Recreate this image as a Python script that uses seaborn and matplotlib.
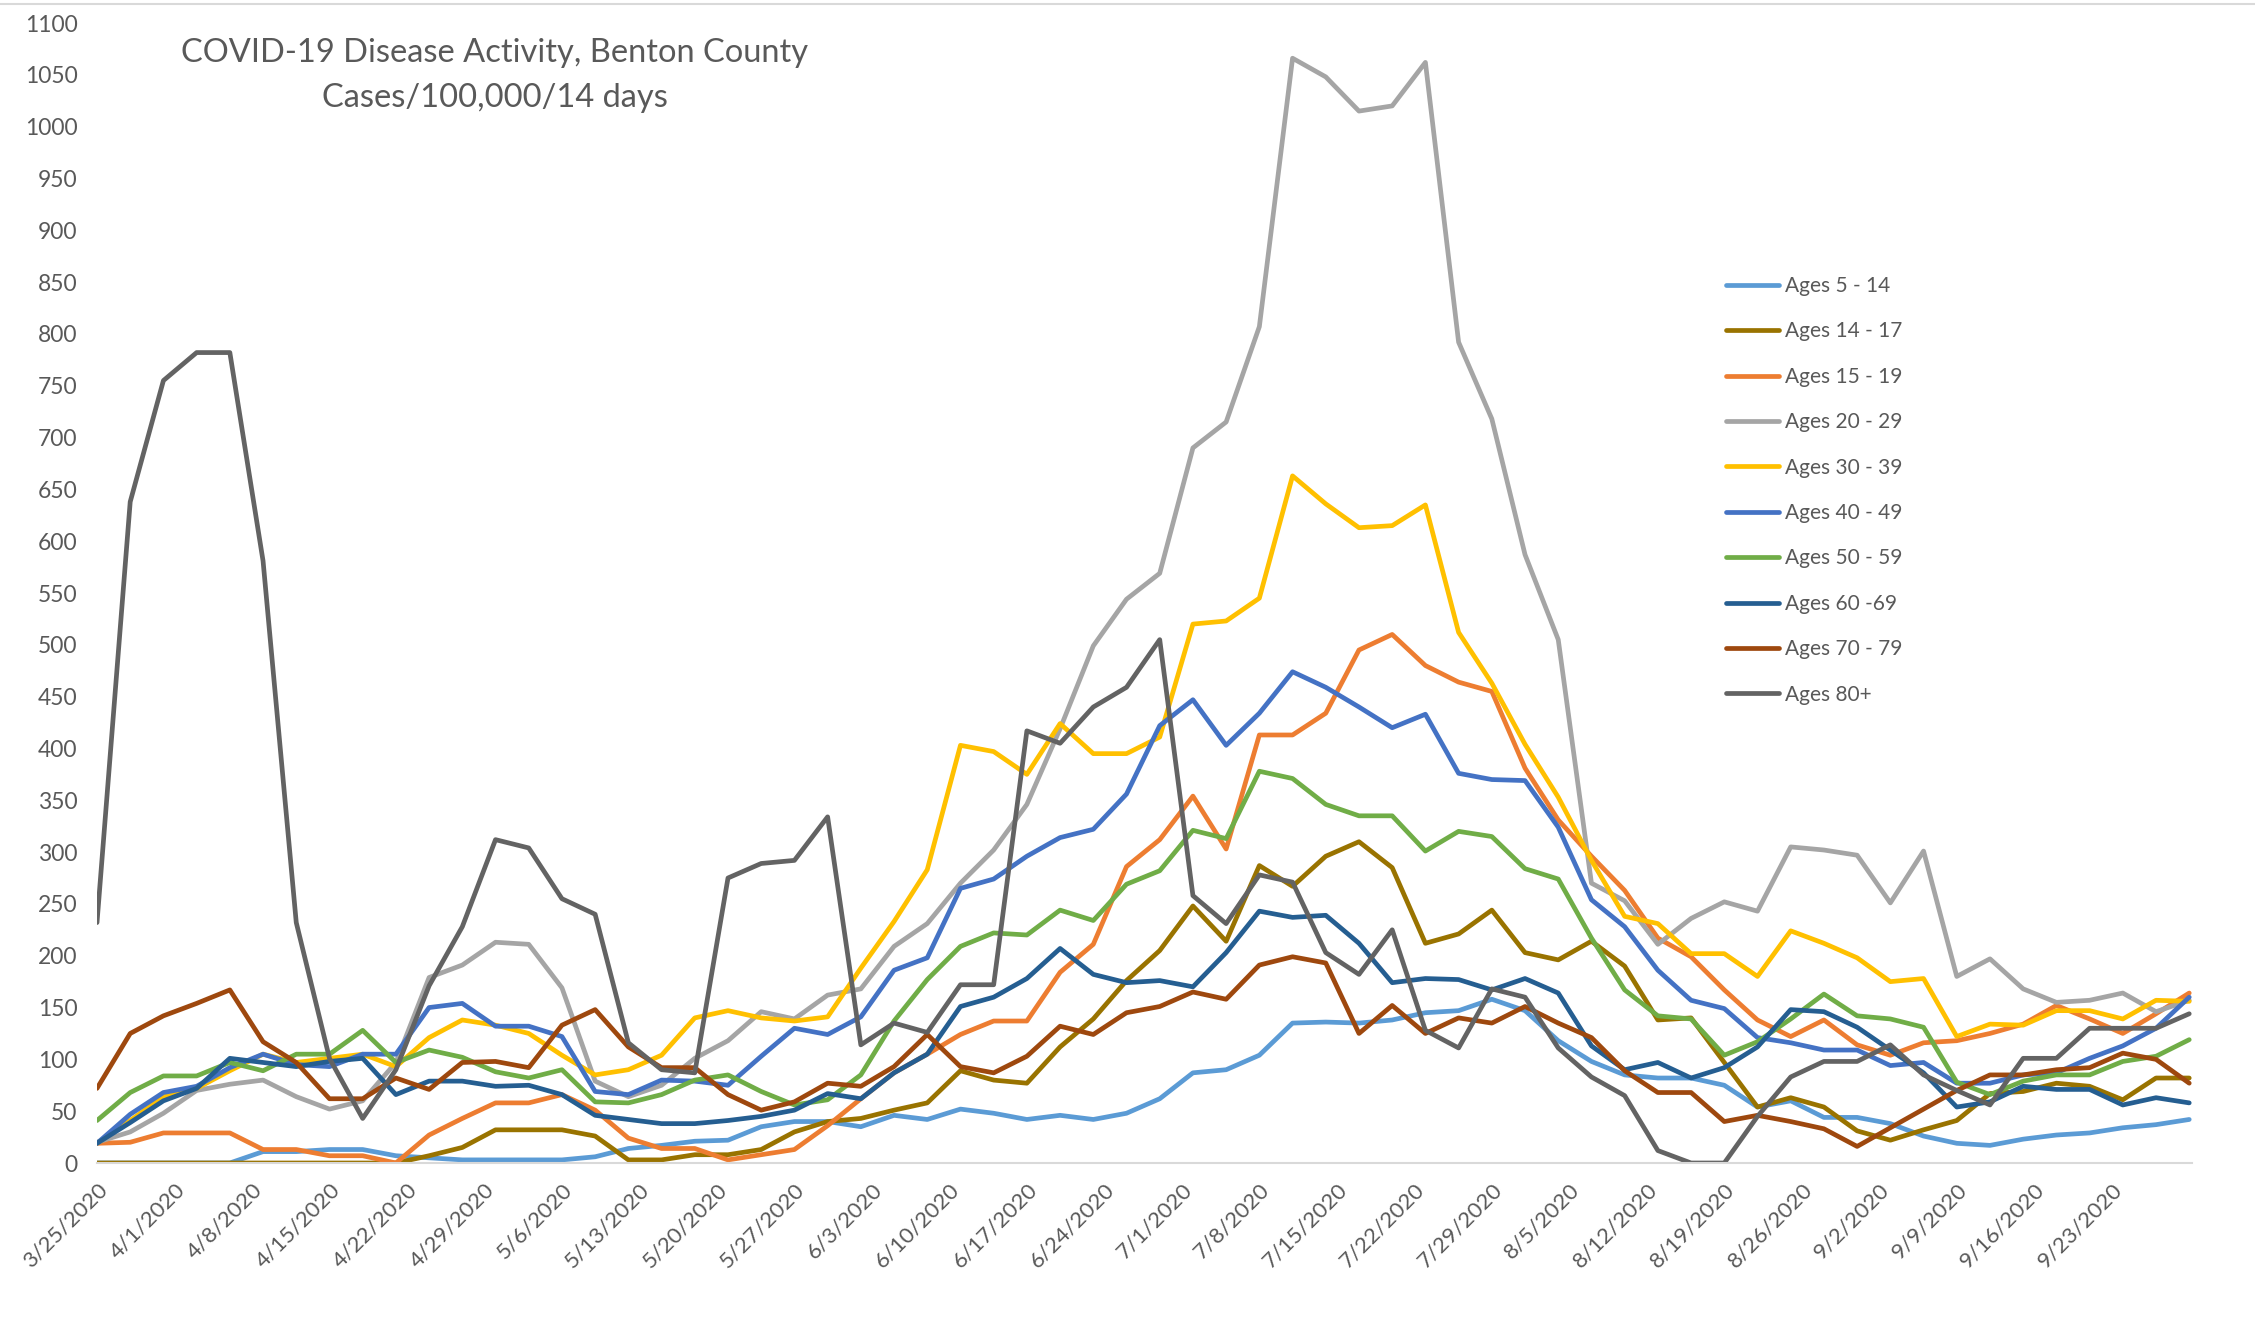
import pandas as pd
import matplotlib.pyplot as plt
from matplotlib.lines import Line2D
import seaborn as sns

sns.set_theme(style="white")
plt.rcParams['font.family'] = ['Lato', 'DejaVu Sans']

# 3-day sampling of the 14-day case rate, 3/25/2020 .. 9/30/2020
dates = pd.date_range("2020-03-25", periods=64, freq="3D")

ages_5_14 = [0, 0, 0, 0, 0, 11, 11, 13, 13, 7, 5, 3, 3, 3, 3, 6,
             14, 17, 21, 22, 35, 40, 40, 35, 46, 42, 52, 48, 42, 46, 42, 48,
             62, 87, 90, 104, 135, 136, 135, 138, 145, 147, 158, 147, 118, 98, 85, 82,
             82, 75, 54, 60, 44, 44, 38, 26, 19, 17, 23, 27, 29, 34, 37, 42]
ages_14_17 = [0, 0, 0, 0, 0, 0, 0, 0, 0, 0, 7, 15, 32, 32, 32, 26,
              3, 3, 8, 8, 13, 30, 40, 43, 51, 58, 89, 80, 77, 112, 139, 176,
              205, 248, 214, 287, 267, 296, 310, 285, 212, 221, 244, 203, 196, 214, 190, 138,
              140, 97, 54, 63, 54, 31, 22, 32, 41, 67, 69, 77, 74, 61, 82, 82]
ages_15_19 = [19, 20, 29, 29, 29, 13, 13, 7, 7, 0, 27, 43, 58, 58, 66, 51,
              24, 14, 14, 3, 8, 13, 36, 62, 87, 105, 124, 137, 137, 184, 211, 286,
              312, 354, 303, 413, 413, 434, 495, 510, 480, 464, 455, 381, 331, 296, 263, 217,
              199, 167, 138, 122, 138, 114, 104, 116, 118, 125, 134, 152, 139, 125, 144, 164]
ages_20_29 = [20, 30, 48, 70, 76, 80, 64, 52, 60, 97, 179, 191, 213, 211, 169, 79,
              64, 75, 101, 118, 146, 139, 162, 168, 209, 231, 270, 302, 346, 419, 499, 544,
              569, 690, 715, 807, 1066, 1048, 1015, 1020, 1062, 792, 718, 587, 505, 270, 253, 211,
              236, 252, 243, 305, 302, 297, 251, 301, 180, 197, 168, 155, 157, 164, 146, 157]
ages_30_39 = [19, 41, 64, 72, 89, 105, 97, 101, 105, 93, 121, 138, 133, 125, 104, 85,
              90, 104, 140, 147, 140, 137, 141, 188, 233, 283, 403, 397, 375, 424, 395, 395,
              411, 520, 523, 545, 663, 636, 613, 615, 635, 512, 463, 404, 353, 292, 238, 231,
              202, 202, 180, 224, 212, 198, 175, 178, 122, 134, 133, 147, 147, 139, 157, 156]
ages_40_49 = [19, 47, 68, 74, 92, 105, 95, 93, 105, 105, 150, 154, 132, 132, 122, 69,
              66, 80, 79, 75, 103, 130, 124, 141, 186, 198, 265, 274, 296, 314, 322, 356,
              422, 447, 403, 434, 474, 459, 440, 420, 433, 376, 370, 369, 324, 254, 228, 186,
              157, 149, 121, 116, 109, 109, 94, 97, 77, 77, 85, 87, 101, 113, 130, 160]
ages_50_59 = [41, 68, 84, 84, 97, 89, 105, 105, 128, 97, 109, 102, 88, 82, 90, 59,
              58, 66, 80, 85, 69, 56, 61, 85, 137, 177, 209, 222, 220, 244, 234, 269,
              282, 321, 313, 378, 371, 346, 335, 335, 301, 320, 315, 284, 274, 217, 167, 142,
              139, 104, 117, 139, 163, 142, 139, 131, 78, 66, 79, 85, 85, 98, 103, 119]
ages_60_69 = [19, 39, 60, 72, 101, 97, 93, 98, 101, 66, 79, 79, 74, 75, 66, 46,
              42, 38, 38, 41, 45, 51, 67, 62, 87, 105, 151, 160, 178, 207, 182, 174,
              176, 170, 203, 243, 237, 239, 212, 174, 178, 177, 167, 178, 164, 113, 90, 97,
              82, 92, 112, 148, 146, 131, 109, 87, 54, 59, 74, 71, 71, 56, 63, 58]
ages_70_79 = [72, 125, 142, 154, 167, 117, 97, 62, 62, 82, 71, 97, 98, 92, 133, 148,
              112, 92, 92, 66, 51, 59, 77, 74, 93, 124, 93, 87, 103, 132, 124, 145,
              151, 165, 158, 191, 199, 193, 125, 152, 125, 140, 135, 151, 135, 121, 89, 68,
              68, 40, 46, 40, 33, 16, 34, 52, 70, 85, 85, 90, 92, 106, 100, 77]
ages_80_plus = [232, 638, 755, 782, 782, 581, 232, 101, 43, 90, 171, 228, 312, 304, 255, 240,
                116, 90, 87, 275, 289, 292, 334, 114, 135, 126, 172, 172, 417, 405, 440, 459,
                505, 258, 231, 278, 271, 203, 182, 225, 128, 111, 168, 160, 111, 83, 65, 12,
                0, 0, 45, 83, 98, 98, 114, 85, 70, 56, 101, 101, 130, 130, 130, 144]

labels = ["Ages 5 - 14", "Ages 14 - 17", "Ages 15 - 19", "Ages 20 - 29", "Ages 30 - 39",
          "Ages 40 - 49", "Ages 50 - 59", "Ages 60 -69", "Ages 70 - 79", "Ages 80+"]
values = [ages_5_14, ages_14_17, ages_15_19, ages_20_29, ages_30_39,
          ages_40_49, ages_50_59, ages_60_69, ages_70_79, ages_80_plus]
colors = ["#5B9BD5", "#997300", "#ED7D31", "#A5A5A5", "#FFC000",
          "#4472C4", "#70AD47", "#255E91", "#9E480E", "#636363"]

df = pd.concat([pd.DataFrame({"date": dates, "rate": v, "group": lab})
                for lab, v in zip(labels, values)], ignore_index=True)

W, H = 2255, 1333
fig = plt.figure(figsize=(W / 100, H / 100), dpi=100)
ax = fig.add_axes([97 / W, (H - 1163) / H, (2192 - 97) / W, (1163 - 23) / H])

sns.lineplot(data=df, x="date", y="rate", hue="group", hue_order=labels,
             palette=colors, linewidth=3.4, estimator=None, sort=False,
             legend=False, ax=ax)

ax.set_xlim(dates[0], dates[-1] + pd.Timedelta(hours=6))
ax.set_ylim(0, 1100)
ax.set_xlabel("")
ax.set_ylabel("")

xt = pd.date_range("2020-03-25", "2020-09-23", freq="7D")
ax.set_xticks(xt)
ax.set_xticklabels([f"{d.month}/{d.day}/{d.year}" for d in xt], rotation=45,
                   ha="right", rotation_mode="anchor", fontsize=16, color="#595959")
ax.set_yticks(range(0, 1101, 50))
ax.set_yticklabels([str(v) for v in range(0, 1101, 50)], fontsize=16.5, color="#595959")
ax.tick_params(axis="x", length=0, pad=12)
ax.tick_params(axis="y", length=0, pad=14)

for side in ["top", "right", "left"]:
    ax.spines[side].set_visible(False)
ax.spines["bottom"].set_color("#D9D9D9")
ax.spines["bottom"].set_linewidth(1.5)
ax.grid(False)

fig.text(495 / W, 1 - 53 / H, "COVID-19 Disease Activity, Benton County",
         ha="center", va="center", fontsize=23.5, color="#595959")
fig.text(495 / W, 1 - 98 / H, "Cases/100,000/14 days",
         ha="center", va="center", fontsize=23.5, color="#595959")

handles = [Line2D([0], [0], color=c, lw=3.4) for c in colors]
fig.legend(handles, labels, loc="upper left", bbox_to_anchor=(1726 / W, 1 - 276 / H),
           frameon=False, fontsize=15, handlelength=2.55, handletextpad=0.3,
           labelspacing=1.22, borderpad=0, borderaxespad=0, labelcolor="#595959")

# thin border along the top edge of the screenshot
fig.add_artist(Line2D([0, 1], [1 - 4 / H, 1 - 4 / H], color="#D9D9D9", lw=1.5,
                      transform=fig.transFigure))

fig.savefig("out.png", dpi=100)
